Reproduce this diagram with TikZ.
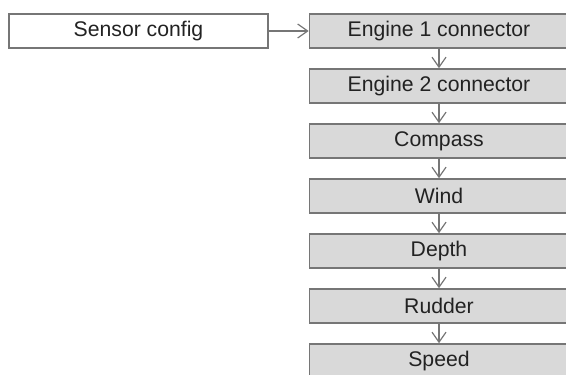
\documentclass[tikz,border=0pt]{standalone}
\usepackage{fontspec}
\setmainfont{Liberation Sans}
\usetikzlibrary{arrows.meta}
\definecolor{boxgray}{HTML}{D9D9D9}
\definecolor{edgegray}{HTML}{767676}
\definecolor{textgray}{HTML}{222222}
\tikzset{
  sensorbox/.style={draw=edgegray, line width=0.8pt, fill=white, minimum width=129.5pt, minimum height=17pt, inner sep=0pt, font=\fontsize{10.6}{12}\selectfont, text=textgray},
  chainbox/.style={sensorbox, fill=boxgray},
  link/.style={draw=edgegray, line width=0.6pt, -{Straight Barb[length=5pt,width=7pt]}}
}
\begin{document}
\begin{tikzpicture}[x=0.5pt, y=-0.5pt]
                %%% Page frame
                \useasboundingbox (0,0) rectangle (566,374);
                \clip (0,0) rectangle (566,374);
                %%% Source box
                \node[sensorbox] (sensor) at (138.5,31) {Sensor config};
                %%% Column of boxes
                \foreach \name/\txt [count=\i] in {eng1/Engine 1 connector, eng2/Engine 2 connector, compass/Compass, wind/Wind, depth/Depth, rudder/Rudder, speed/Speed}
                    \node[chainbox] (\name) at (439,{31+55*(\i-1)}) {\txt};
                %%% Arrows
                \draw[link] (sensor) -- (eng1);
                \foreach \a/\b in {eng1/eng2, eng2/compass, compass/wind, wind/depth, depth/rudder, rudder/speed}
                    \draw[link] (\a) -- (\b);
\end{tikzpicture}
\end{document}
